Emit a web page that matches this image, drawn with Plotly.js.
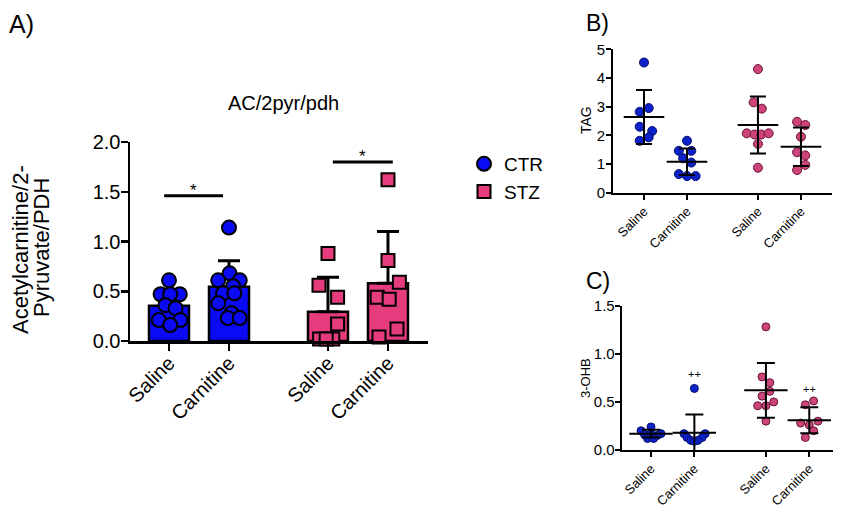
<!DOCTYPE html>
<html>
<head>
<meta charset="utf-8">
<script src="https://cdn.plot.ly/plotly-3.0.1.min.js"></script>
<style>html,body{margin:0;padding:0;background:#fff;}#chart{width:847px;height:515px;}</style>
</head>
<body>
<div id="chart"></div>
<script>
// ---------- shared ----------
const categories = ['Saline', 'Carnitine', 'Saline', 'Carnitine'];
const catPos = [0, 1, 2.65, 3.65];
const groups = ['CTR', 'STZ'];

// ---------- Panel A: AC/2pyr/pdh ----------
const aCtrSaline = [0.61, 0.47, 0.47, 0.47, 0.36, 0.33, 0.21, 0.21, 0.16];
const aCtrSalineJit = [0, -0.14, 0.18, 0.02, -0.06, 0.11, -0.17, 0.19, 0.02];
const aCtrCarn = [1.14, 0.68, 0.61, 0.61, 0.55, 0.48, 0.48, 0.38, 0.28, 0.23, 0.23];
const aCtrCarnJit = [0, 0.01, -0.18, 0.18, 0.07, -0.10, 0.09, -0.18, 0.04, -0.02, 0.18];
const aStzSaline = [0.88, 0.56, 0.44, 0.17, 0.02, 0.02, 0.02];
const aStzSalineJit = [0, -0.15, 0.16, 0.16, -0.14, 0.08, -0.03];
const aStzCarn = [1.62, 0.81, 0.59, 0.44, 0.42, 0.12, 0.04];
const aStzCarnJit = [0, 0, 0.19, -0.18, 0.02, 0.15, -0.15];
const aMeans = [0.355, 0.546, 0.295, 0.58];
const aSD = [0.15, 0.26, 0.345, 0.52];
const aSig = [{x0: -0.08, x1: 0.9, y: 1.46, text: '*'}, {x0: 2.73, x1: 3.73, y: 1.80, text: '*'}];

// ---------- Panel B: TAG ----------
const bCtrSaline = [4.54, 2.95, 2.82, 2.30, 2.15, 1.93, 1.81];
const bCtrSalineJit = [0, 0.11, -0.10, -0.10, 0.19, 0.11, -0.10];
const bCtrCarn = [1.81, 1.46, 1.46, 1.20, 1.05, 0.65, 0.58, 0.58];
const bCtrCarnJit = [0, -0.19, 0.10, -0.09, 0.10, -0.19, 0, 0.2];
const bStzSaline = [4.31, 3.15, 2.93, 2.07, 2.03, 2.03, 2.07, 1.70, 0.87];
const bStzSalineJit = [0, -0.1, 0.09, -0.26, -0.08, 0.08, 0.25, 0, 0];
const bStzCarn = [2.47, 2.36, 1.95, 1.41, 1.30, 0.97, 0.79];
const bStzCarnJit = [-0.09, 0.1, 0, -0.09, 0.1, 0.1, -0.09];
const bMeans = [2.64, 1.08, 2.36, 1.60];
const bSD = [0.94, 0.46, 0.99, 0.67];
const bSig = [{x0: 0.05, x1: 0.95, y: 5.15, text: '***'}, {x0: 2.7, x1: 3.6, y: 5.15, text: '***'}];

// ---------- Panel C: 3-OHB ----------
const cCtrSaline = [0.24, 0.20, 0.17, 0.17, 0.16, 0.15, 0.12, 0.12];
const cCtrSalineJit = [0, -0.23, 0.23, 0, -0.15, 0.14, -0.08, 0.06];
const cCtrCarn = [0.64, 0.17, 0.17, 0.13, 0.13, 0.10, 0.10, 0.09];
const cCtrCarnJit = [0, -0.24, 0.25, -0.17, 0.18, -0.08, 0.08, 0];
const cStzSaline = [1.28, 0.76, 0.70, 0.61, 0.56, 0.50, 0.46, 0.46, 0.30];
const cStzSalineJit = [0, -0.09, 0.09, 0.09, -0.09, 0.18, -0.19, 0, 0];
const cStzCarn = [0.51, 0.47, 0.30, 0.28, 0.26, 0.20, 0.13];
const cStzCarnJit = [0.1, -0.09, 0.2, -0.2, 0, 0.1, -0.09];
const cMeans = [0.17, 0.18, 0.62, 0.31];
const cSD = [0.04, 0.19, 0.285, 0.135];
const cSig = [{x0: 0.38, x1: 3.48, y: 1.52, text: '****'}];
const cPlus = [{idx: 1, y: 0.79, text: '++'}, {idx: 3, y: 0.63, text: '++'}];

// ---------- styling ----------
const FONT = 'Liberation Sans, Arial, Helvetica, sans-serif';
const BLUE_A = '#0a0af5', PINK_A = '#e43c7c';
const BLUE_B = '#0c22c8', PINK_B = '#cc4479';
const W = 847, H = 515;
const px = v => v / W;
const py = v => 1 - v / H;

function pts(vals, jit, pos) { return {x: vals.map((v, i) => pos + jit[i]), y: vals}; }

const traces = [];

// Panel A bars
traces.push({type: 'bar', xaxis: 'x', yaxis: 'y', x: [catPos[0], catPos[1]], y: [aMeans[0], aMeans[1]], width: 0.667,
  marker: {color: BLUE_A, line: {color: '#000', width: 2.5}}, showlegend: false, hoverinfo: 'skip',
  error_y: {type: 'data', symmetric: false, array: [aSD[0], aSD[1]], arrayminus: [0, 0], color: '#000', thickness: 3, width: 11}});
traces.push({type: 'bar', xaxis: 'x', yaxis: 'y', x: [catPos[2], catPos[3]], y: [aMeans[2], aMeans[3]], width: 0.667,
  marker: {color: PINK_A, line: {color: '#000', width: 2.5}}, showlegend: false, hoverinfo: 'skip',
  error_y: {type: 'data', symmetric: false, array: [aSD[2], aSD[3]], arrayminus: [0, 0], color: '#000', thickness: 3, width: 11}});

const aSets = [[aCtrSaline, aCtrSalineJit, 0, 'CTR'], [aCtrCarn, aCtrCarnJit, 1, 'CTR'], [aStzSaline, aStzSalineJit, 2, 'STZ'], [aStzCarn, aStzCarnJit, 3, 'STZ']];
aSets.forEach((s, k) => {
  const p = pts(s[0], s[1], catPos[s[2]]);
  const ctr = s[3] === 'CTR';
  traces.push({type: 'scatter', mode: 'markers', xaxis: 'x', yaxis: 'y', x: p.x, y: p.y, cliponaxis: false,
    name: s[3], legendgroup: s[3], showlegend: (k === 0 || k === 2),
    marker: {symbol: ctr ? 'circle' : 'square', size: ctr ? 14 : 13, color: ctr ? BLUE_A : PINK_A, line: {color: '#000', width: 2}}});
});

// Panels B and C (scatter + mean + SD)
function dotPanel(sets, means, sds, xa, ya, size, meanLen, capW) {
  sets.forEach(s => {
    const p = pts(s[0], s[1], catPos[s[2]]);
    const ctr = s[2] < 2;
    traces.push({type: 'scatter', mode: 'markers', xaxis: xa, yaxis: ya, x: p.x, y: p.y, cliponaxis: false, showlegend: false,
      marker: {symbol: 'circle', size: size, color: ctr ? BLUE_B : PINK_B, line: {color: ctr ? '#061070' : '#6a1434', width: 1}}});
  });
  traces.push({type: 'scatter', mode: 'markers', xaxis: xa, yaxis: ya, x: catPos, y: means, cliponaxis: false, showlegend: false,
    marker: {symbol: 'line-ew', size: meanLen, color: '#000', line: {color: '#000', width: 2}},
    error_y: {type: 'data', array: sds, color: '#000', thickness: 2, width: capW}});
}
dotPanel([[bCtrSaline, bCtrSalineJit, 0], [bCtrCarn, bCtrCarnJit, 1], [bStzSaline, bStzSalineJit, 2], [bStzCarn, bStzCarnJit, 3]],
  bMeans, bSD, 'x2', 'y2', 9, 29, 8);
dotPanel([[cCtrSaline, cCtrSalineJit, 0], [cCtrCarn, cCtrCarnJit, 1], [cStzSaline, cStzSalineJit, 2], [cStzCarn, cStzCarnJit, 3]],
  cMeans, cSD, 'x3', 'y3', 8, 31, 9);

// shapes & annotations
const shapes = [];
const annotations = [];
function sig(list, xr, yr, lw, fs, yshift) {
  list.forEach(s => {
    shapes.push({type: 'line', xref: xr, yref: yr, x0: s.x0, x1: s.x1, y0: s.y, y1: s.y, line: {color: '#000', width: lw}});
    annotations.push({xref: xr, yref: yr, x: (s.x0 + s.x1) / 2, y: s.y, text: s.text, showarrow: false, yanchor: 'bottom', yshift: yshift,
      font: {family: FONT, size: fs, color: '#000'}});
  });
}
sig(aSig, 'x', 'y', 3, 17, -6);
sig(bSig, 'x2', 'y2', 2, 12, -4);
sig(cSig, 'x3', 'y3', 2, 10, -3);
cPlus.forEach(p => annotations.push({xref: 'x3', yref: 'y3', x: catPos[p.idx], y: p.y, text: p.text, showarrow: false,
  font: {family: FONT, size: 11, color: '#000'}}));

// panel letters, titles
function txt(x, y, text, size, opts) {
  annotations.push(Object.assign({xref: 'paper', yref: 'paper', x: px(x), y: py(y), text: text, showarrow: false,
    font: {family: FONT, size: size, color: '#000'}}, opts || {}));
}
txt(7, 8, 'A)', 25, {xanchor: 'left', yanchor: 'top'});
txt(584, 8, 'B)', 23, {xanchor: 'left', yanchor: 'top'});
txt(584, 266, 'C)', 23, {xanchor: 'left', yanchor: 'top'});
txt(283, 103, 'AC/2pyr/pdh', 20, {xanchor: 'center', yanchor: 'middle'});
txt(20, 250, 'Acetylcarnitine/2-', 22, {textangle: -90, xanchor: 'center', yanchor: 'middle'});
txt(41, 248, 'Pyruvate/PDH', 22, {textangle: -90, xanchor: 'center', yanchor: 'middle'});
txt(586, 120, 'TAG', 14, {textangle: -90, xanchor: 'center', yanchor: 'middle'});
txt(585, 378, '3-OHB', 13, {textangle: -90, xanchor: 'center', yanchor: 'middle'});

function xax(domain, range, fs, lw, tl, so) {
  return {domain: domain, range: range, tickvals: catPos, ticktext: categories, tickangle: -45, showgrid: false, zeroline: false,
    showline: true, linecolor: '#000', linewidth: lw, ticks: 'outside', ticklen: tl, tickwidth: lw, tickcolor: '#000',
    ticklabelstandoff: so, tickfont: {family: FONT, size: fs, color: '#000'}, fixedrange: true};
}
function yax(domain, range, dtick, fmt, fs, lw, tl, anchor, so) {
  return {domain: domain, range: range, dtick: dtick, tick0: 0, tickformat: fmt, showgrid: false, zeroline: false, anchor: anchor,
    showline: true, linecolor: '#000', linewidth: lw, ticks: 'outside', ticklen: tl, tickwidth: lw, tickcolor: '#000',
    ticklabelstandoff: so, tickfont: {family: FONT, size: fs, color: '#000'}, fixedrange: true};
}

const layout = {
  width: W, height: H, autosize: false,
  margin: {l: 0, r: 0, t: 0, b: 0},
  paper_bgcolor: '#fff', plot_bgcolor: 'rgba(0,0,0,0)',
  font: {family: FONT, color: '#000'},
  barmode: 'overlay',
  showlegend: true,
  legend: {x: px(464), y: py(145), xanchor: 'left', yanchor: 'top', font: {family: FONT, size: 19, color: '#000'},
    bgcolor: 'rgba(0,0,0,0)', tracegroupgap: 0, traceorder: 'grouped'},
  xaxis: Object.assign(xax([px(130), px(428)], [-0.65, 4.317], 20, 2.5, 7, -7), {anchor: 'y'}),
  yaxis: yax([py(341), py(142)], [0, 2], 0.5, '.1f', 20, 2.5, 7, 'x', -4),
  xaxis2: Object.assign(xax([px(613), px(832)], [-0.721, 4.372], 13, 2, 5, -1), {anchor: 'y2'}),
  yaxis2: yax([py(192.7), py(49.3)], [0, 5], 1, 'd', 15, 2, 5, 'x2', -2),
  xaxis3: Object.assign(xax([px(621.7), px(833)], [-0.676, 4.197], 13, 2, 5, -1), {anchor: 'y3'}),
  yaxis3: yax([py(450), py(305.7)], [0, 1.5], 0.5, '.1f', 15, 2, 5, 'x3', -3),
  shapes: shapes,
  annotations: annotations
};

Plotly.newPlot('chart', traces, layout, {displayModeBar: false, staticPlot: true});
</script>
</body>
</html>
